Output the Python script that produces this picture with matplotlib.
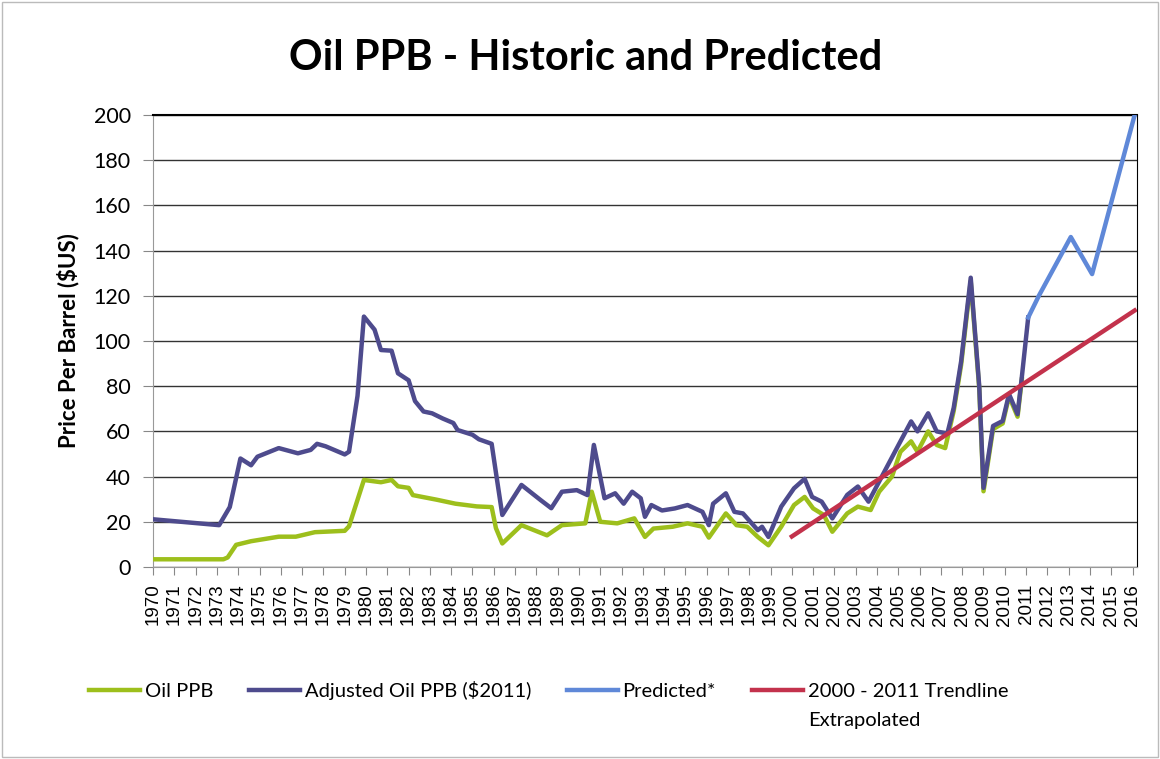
import matplotlib.pyplot as plt
from matplotlib.patches import Rectangle

# Oil PPB (nominal)
oil_x = [1970.0, 1973.3, 1973.5, 1973.9, 1974.6, 1975.9, 1976.7, 1977.6, 1979.0, 1979.2,
         1979.9, 1980.7, 1981.2, 1981.5, 1982.0, 1982.2, 1983.3, 1984.2, 1985.2, 1985.9,
         1986.1, 1986.4, 1987.3, 1988.5, 1989.2, 1990.3, 1990.6, 1991.0, 1991.8, 1992.6,
         1993.1, 1993.5, 1994.4, 1995.1, 1995.8, 1996.1, 1996.9, 1997.4, 1997.9, 1998.4,
         1998.9, 1999.5, 2000.1, 2000.6, 2001.0, 2001.5, 2001.9, 2002.6, 2003.1, 2003.7,
         2004.1, 2004.7, 2005.1, 2005.6, 2005.9, 2006.4, 2006.8, 2007.2, 2007.6, 2007.95,
         2008.4, 2008.8, 2009.0, 2009.45, 2009.9, 2010.2, 2010.6, 2010.8]
oil_y = [3.4, 3.4, 4.2, 9.8, 11.4, 13.4, 13.4, 15.4, 16.0, 18.0,
         38.5, 37.5, 38.5, 35.7, 35.0, 31.8, 29.8, 28.0, 26.8, 26.5,
         17.2, 10.4, 18.5, 14.0, 18.5, 19.3, 33.3, 20.0, 19.3, 21.5,
         13.3, 17.0, 17.8, 19.3, 17.8, 13.0, 23.7, 18.5, 17.8, 13.3,
         9.6, 17.8, 27.4, 31.0, 25.9, 23.0, 15.6, 23.7, 26.7, 25.2,
         33.3, 40.0, 51.0, 55.6, 51.0, 60.0, 54.0, 52.6, 69.0, 89.5,
         126.5, 79.0, 33.5, 61.0, 63.5, 75.5, 66.5, 83.0]

# Adjusted Oil PPB ($2011)
adj_x = [1970.0, 1973.1, 1973.6, 1974.1, 1974.6, 1974.9, 1975.9, 1976.8, 1977.4, 1977.7,
         1978.1, 1979.0, 1979.2, 1979.6, 1979.9, 1980.4, 1980.7, 1981.2, 1981.5, 1982.0,
         1982.3, 1982.7, 1983.1, 1983.6, 1984.1, 1984.3, 1985.0, 1985.3, 1985.9, 1986.1,
         1986.4, 1987.3, 1988.2, 1988.7, 1989.2, 1989.9, 1990.4, 1990.7, 1991.2, 1991.7,
         1992.1, 1992.5, 1992.9, 1993.1, 1993.4, 1993.9, 1994.5, 1995.1, 1995.8, 1996.1,
         1996.3, 1996.9, 1997.3, 1997.7, 1998.4, 1998.6, 1998.9, 1999.5, 2000.1, 2000.6,
         2000.95, 2001.4, 2001.9, 2002.6, 2003.1, 2003.6, 2004.1, 2004.6, 2005.1, 2005.6,
         2005.9, 2006.4, 2006.8, 2007.3, 2007.6, 2007.95, 2008.4, 2008.8, 2009.0, 2009.45,
         2009.9, 2010.2, 2010.6, 2010.8, 2011.1]
adj_y = [21.1, 18.5, 26.5, 48.0, 45.0, 48.8, 52.6, 50.3, 51.8, 54.5,
         53.4, 49.8, 51.0, 75.7, 110.8, 105.0, 96.0, 95.7, 85.7, 82.6,
         73.4, 68.8, 68.0, 65.7, 63.7, 60.6, 58.5, 56.5, 54.5, 41.8,
         23.0, 36.3, 29.6, 26.0, 33.3, 34.0, 31.8, 54.0, 30.4, 32.6,
         28.0, 33.3, 30.4, 22.2, 27.4, 25.0, 25.9, 27.4, 24.4, 18.5,
         28.0, 32.6, 24.4, 23.7, 16.3, 17.8, 13.3, 26.7, 34.8, 39.0,
         31.0, 28.9, 21.5, 31.9, 35.6, 28.9, 37.8, 46.7, 55.6, 64.4,
         60.0, 68.0, 60.0, 59.0, 70.4, 91.0, 128.0, 80.0, 35.0, 62.4,
         64.6, 76.5, 67.6, 84.0, 110.4]

# Predicted*
pred_x = [2011.1, 2011.6, 2013.1, 2014.1, 2016.1]
pred_y = [110.4, 120.0, 146.0, 129.6, 200.0]

# 2000 - 2011 trendline extrapolated
trend_x = [2000.0, 2016.1]
trend_y = [13.5, 113.5]

years = list(range(1970, 2017))

plt.rcParams['font.family'] = ['Lato', 'DejaVu Sans']

fig = plt.figure(figsize=(11.6, 7.59), dpi=100)
ax = fig.add_axes([0.132, 0.253, 0.848, 0.5955])

ax.plot(oil_x, oil_y, color='#9dbf1c', lw=3.2, label='Oil PPB', zorder=3)
ax.plot(adj_x, adj_y, color='#4e4b8d', lw=3.2, label='Adjusted Oil PPB ($2011)', zorder=4)
ax.plot(pred_x, pred_y, color='#5f88d8', lw=3.2, label='Predicted*', zorder=4)
ax.plot(trend_x, trend_y, color='#c3324c', lw=3.2, label='2000 - 2011 Trendline', zorder=5)

ax.set_xlim(1970, 2016.2)
ax.set_ylim(0, 200)
ax.set_yticks(range(0, 201, 20))
ax.set_xticks(years)
ax.set_xticklabels([str(y) for y in years], rotation=90, family=['Liberation Sans'], fontsize=13.5)
ax.tick_params(axis='y', labelsize=15.5, length=7, direction='out', color='#888888', pad=9)
ax.tick_params(axis='x', length=6, direction='out', color='#888888', pad=6)
ax.grid(axis='y', color='#333333', lw=1)
ax.set_axisbelow(True)

for side in ['left', 'bottom']:
    ax.spines[side].set_color('#999999')
ax.spines['top'].set_color('black')
ax.spines['top'].set_linewidth(1.5)
ax.spines['right'].set_color('black')

ax.set_ylabel('Price Per Barrel ($US)', fontsize=16, fontweight='bold', labelpad=10)
fig.text(0.505, 0.923, 'Oil PPB - Historic and Predicted', ha='center', va='center',
         fontsize=30, fontweight='bold')

leg = fig.legend(loc='center', bbox_to_anchor=(0.473, 0.09), ncol=4, frameon=False,
                 fontsize=14.5, handlelength=2.5, handletextpad=0.25, columnspacing=1.8)

# second line of the trendline label
fig.canvas.draw()
bb = leg.get_texts()[-1].get_window_extent()
fig.text(bb.x0 / fig.bbox.width, (bb.y0 - 12) / fig.bbox.height, 'Extrapolated',
         ha='left', va='top', fontsize=14.5)

fig.patches.append(Rectangle((0.002, 0.003), 0.996, 0.994, transform=fig.transFigure,
                             fill=False, edgecolor='#bbbbbb', lw=1))

fig.savefig('out.png', dpi=100)
